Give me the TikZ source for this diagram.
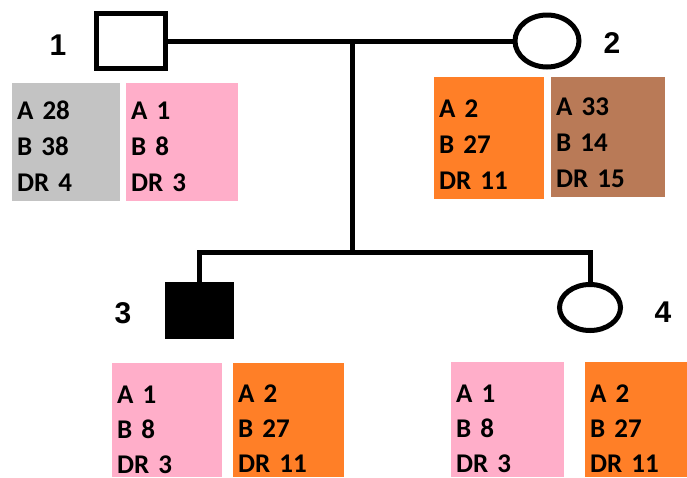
\documentclass[tikz,border=0pt]{standalone}
\usepackage{fontspec}
\setmainfont{Carlito}[WordSpace=0.7]
\newfontfamily\idfont{Liberation Sans}
\usetikzlibrary{positioning,calc,shapes.geometric}
\definecolor{hapgray}{RGB}{195,195,195}
\definecolor{happink}{RGB}{255,174,201}
\definecolor{haporange}{RGB}{255,127,39}
\definecolor{hapbrown}{RGB}{185,122,87}

\begin{document}
\begin{tikzpicture}[
            x=1pt,y=-1pt,
            line/.style={line width=5pt},
            male/.style={draw,line width=5pt,rectangle,inner sep=0pt},
            female/.style={draw,line width=5pt,ellipse,inner sep=0pt},
            idlabel/.style={font={\idfont\bfseries\fontsize{30}{30}\selectfont}},
            hap/.style={anchor=north west,inner xsep=5pt,inner ysep=0pt,align=left,
                font={\fontsize{27}{36}\selectfont\bfseries}},
            low/.style={font={\fontsize{27}{35}\selectfont\bfseries},minimum height=114pt},
            drop/.style={execute at begin node={\rule{0pt}{#1}}}
        ]
            \useasboundingbox (0,0) rectangle (687,477);
            \clip (0,0) rectangle (687,477);

            % parents
            \node[male, minimum width=69pt, minimum height=55pt] (p1) at (131,41) {};
            \node[female, minimum width=64pt, minimum height=52pt] (p2) at (547,41) {};
            \node[idlabel] (n1) at (58,45) {1};
            \node[idlabel] (n2) at (612,43) {2};

            % children
            \node[male, fill=black, minimum width=64pt, minimum height=52pt] (p3) at (199.5,310.5) {};
            \node[female, minimum width=61pt, minimum height=46pt] (p4) at (590,307.5) {};
            \node[idlabel] (n3) at (123,313) {3};
            \node[idlabel] (n4) at (663,312) {4};

            \coordinate (mate) at (352,41);
            \coordinate (sib) at (352,252);

            \draw[line] (p1.east) -- (p2.west);
            \draw[line] (mate) -- (sib);
            \draw[line] (p3.north) |- (sib) -| (p4.north);

            % haplotypes
            \node[hap, drop=27pt, fill=hapgray, text width=98pt, minimum height=118pt] (h1a) at (12,83) {A 28\\B 38\\DR 4};
            \node[hap, drop=27pt, fill=happink, text width=102pt, minimum height=118pt] (h1b) at (126,83) {A 1\\B 8\\DR 3};
            \node[hap, drop=30pt, fill=haporange, text width=100pt, minimum height=122pt] (h2a) at (434,77) {A 2\\B 27\\DR 11};
            \node[hap, drop=28pt, fill=hapbrown, text width=104pt, minimum height=120pt] (h2b) at (551,77) {A 33\\B 14\\DR 15};
            \node[hap, low, drop=36pt, fill=happink, text width=100pt] (h3a) at (112,363) {A 1\\B 8\\DR 3};
            \node[hap, low, drop=34pt, fill=haporange, text width=101pt] (h3b) at (233,363) {A 2\\B 27\\DR 11};
            \node[hap, low, drop=36pt, fill=happink, text width=103pt, minimum height=115pt] (h4a) at (451,362) {A 1\\B 8\\DR 3};
            \node[hap, low, drop=36pt, fill=haporange, text width=92pt, minimum height=115pt] (h4b) at (585,362) {A 2\\B 27\\DR 11};
        \end{tikzpicture}
\end{document}
